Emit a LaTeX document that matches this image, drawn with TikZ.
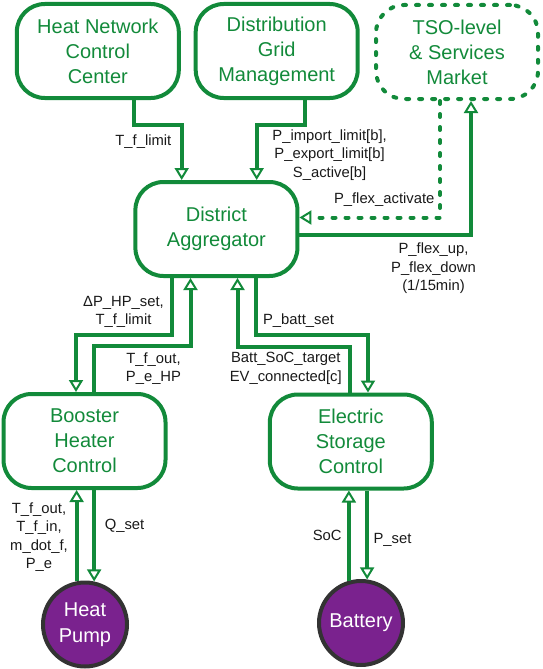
\documentclass[tikz,border=0pt]{standalone}
\usepackage{fontspec}
\setmainfont{Liberation Sans}
\usetikzlibrary{arrows.meta}
\definecolor{gr}{RGB}{18,138,58}
\definecolor{pu}{RGB}{122,34,142}
\definecolor{bd}{RGB}{51,51,51}
\definecolor{tx}{RGB}{25,25,25}
\begin{document}
\begin{tikzpicture}[x=1pt,y=-1pt,
  box/.style={draw=gr, line width=4pt, rounded corners=28pt, minimum width=162pt,
    minimum height=94pt, text=gr, align=center, inner sep=0pt,
    font=\fontsize{20}{25}\selectfont},
  dbox/.style={box, dash pattern=on 3pt off 10pt, line cap=round},
  dev/.style={circle, draw=bd, fill=pu, line width=4pt, minimum size=84pt,
    text=white, align=center, inner sep=0pt, font=\fontsize{20}{26}\selectfont},
  conn/.style={draw=gr, line width=4pt},
  dconn/.style={conn, dash pattern=on 3pt off 10pt, line cap=round},
  otip/.style={-{Triangle[fill=white,length=12pt,width=14pt,line width=2pt]}},
  lab/.style={align=center, inner sep=0pt, text=tx,
    font=\fontsize{14.8}{18.5}\selectfont}
]
\useasboundingbox (0,0) rectangle (543,669);

% boxes
\node[box]  (heat)  at (97.8,51)   {Heat Network\\Control\\Center};
\node[box]  (dist)  at (276.7,51)  {Distribution\\Grid\\Management};
\node[dbox] (tso)   at (457,52)    {TSO-level\\\& Services\\Market};
\node[box]  (agg)   at (216.4,229) {District\\Aggregator};
\node[box]  (boost) at (84.5,441)  {Booster\\Heater\\Control};
\node[box]  (elec)  at (350.8,441.5) {Electric\\Storage\\Control};
\node[dev]  (hp)    at (85,624.5)  {Heat\\Pump};
\node[dev]  (batt)  at (361,623)   {Battery};

% top connectors
\draw[conn,otip] ([xshift=36.2pt]heat.south) -- ++(0,25) -| ([xshift=-34.7pt]agg.north);
\draw[conn,otip] ([xshift=28.3pt]dist.south) -- ++(0,25) -| ([xshift=40.3pt]agg.north);
\draw[dconn,otip] ([xshift=-17pt]tso.south) |- ([yshift=11.5pt]agg.east);
\draw[conn,otip] ([yshift=-5.5pt]agg.east) -| ([xshift=14pt]tso.south);

% middle connectors
\draw[conn,otip] ([xshift=-44.4pt]agg.south) -- ++(0,57) -| ([xshift=-8.5pt]boost.north);
\draw[conn,otip] ([xshift=9.5pt]boost.north) -- ++(0,-45.7) -| ([xshift=-25.9pt]agg.south);
\draw[conn,otip] ([xshift=-0.8pt]elec.north) -- ++(0,-46) -| ([xshift=21.1pt]agg.south);
\draw[conn,otip] ([xshift=39.6pt]agg.south) -- ++(0,57) -| ([xshift=17.2pt]elec.north);

% bottom connectors
\draw[conn,otip] (hp.101.8) -- (hp.101.8 |- boost.south);
\draw[conn,otip] (boost.south -| hp.78.9) -- (hp.78.9);
\draw[conn,otip] (batt.106.8) -- (batt.106.8 |- elec.south);
\draw[conn,otip] (elec.south -| batt.82.6) -- (batt.82.6);

% labels
\node[lab] (l1)  at (143.4,141.7) {T\_f\_limit};
\node[lab] (l2)  at (329.6,155)   {P\_import\_limit[b],\\P\_export\_limit[b]\\S\_active[b]};
\node[lab] (l3)  at (384.2,200)   {P\_flex\_activate};
\node[lab] (l4)  at (433.5,268.3) {P\_flex\_up,\\P\_flex\_down\\(1/15min)};
\node[lab] (l5)  at (123.5,312)   {ΔP\_HP\_set,\\T\_f\_limit};
\node[lab] (l6)  at (298.5,320.7) {P\_batt\_set};
\node[lab] (l7)  at (153.5,368.7) {T\_f\_out,\\P\_e\_HP};
\node[lab] (l8)  at (285.8,368.5) {Batt\_SoC\_target\\EV\_connected[c]};
\node[lab] (l9)  at (39,537)      {T\_f\_out,\\T\_f\_in,\\m\_dot\_f,\\P\_e};
\node[lab] (l10) at (124.5,526)   {Q\_set};
\node[lab] (l11) at (327.2,535)   {SoC};
\node[lab] (l12) at (392.5,540)   {P\_set};
\end{tikzpicture}
\end{document}
